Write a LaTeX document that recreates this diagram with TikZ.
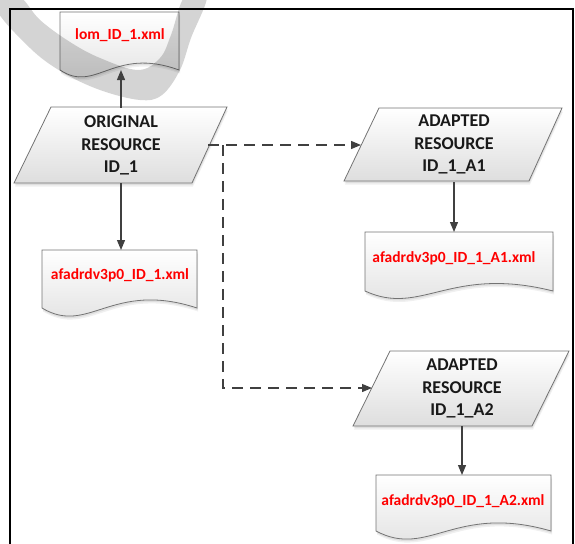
\documentclass[tikz,border=0pt]{standalone}
\usepackage{fontspec}
\setmainfont{Carlito}
\usetikzlibrary{arrows.meta}
\begin{document}
\begin{tikzpicture}[x=1pt,y=-1pt,
  shapebox/.style={
    preaction={fill=black, opacity=0.06, transform canvas={xshift=1pt, yshift=-3.5pt}},
    preaction={fill=black, opacity=0.07, transform canvas={xshift=0.5pt, yshift=-2pt}},
    draw=black!55, line width=0.8pt, top color=white, bottom color=black!13},
  title/.style={font=\bfseries\fontsize{18}{22.5}\selectfont, align=center, text=black!90,
                inner sep=0pt, minimum height=75pt},
  fname/.style={font=\bfseries\fontsize{15.5}{18}\selectfont, text=red, inner sep=0pt},
  flow/.style={draw=black!75, line width=1.2pt, -{Triangle[length=10pt,width=8pt]}},
  link/.style={flow, dash pattern=on 11pt off 7pt},
  frame/.style={line width=2.5pt, line cap=rect}]
\useasboundingbox (0,0) rectangle (575,543);

% outer frame (open at the bottom)
\draw[frame] (10,545) -- (10,9) -- (573,9) -- (573,545);

% parallelograms
\path[shapebox] (51,107) -- (227,107) -- (192,183) -- (14,183) -- cycle;
\path[shapebox] (379,108) -- (562,108) -- (529,181) -- (344,181) -- cycle;
\path[shapebox] (390,351) -- (569,351) -- (532,426) -- (353,426) -- cycle;

% document shapes with wavy bottom edge
\path[shapebox] (60,12) -- (179,12) -- (179,70)
  .. controls (113.5,46) and (95.7,94) .. (60,70) -- cycle;
\path[shapebox] (42,250) -- (197,250) -- (197,308)
  .. controls (111.75,280) and (88.5,336) .. (42,308) -- cycle;
\path[shapebox] (365,232) -- (553,232) -- (553,291)
  .. controls (449.6,265) and (421.4,317) .. (365,291) -- cycle;
\path[shapebox] (376,475) -- (551,475) -- (551,531)
  .. controls (454.75,503) and (428.5,559) .. (376,531) -- cycle;

% faint brush-stroke mark in the upper left
\fill[black, opacity=0.17] plot[smooth cycle, tension=0.6] coordinates {
  (-4,8) (30,48) (62,72) (100,90) (140,100) (162,95) (180,70) (191,38) (207,-4)
  (185,-4) (171,35) (160,58) (138,70) (100,58) (70,42) (40,20) (18,-4)};

% labels
\node[title] (orig) at (121,145.5) {ORIGINAL\\RESOURCE\\ID\_1};
\node[title] (ada1) at (454,144.5) {ADAPTED\\RESOURCE\\ID\_1\_A1};
\node[title] (ada2) at (462,388.5) {ADAPTED\\RESOURCE\\ID\_1\_A2};

\node[fname] (lomf) at (120,35) {lom\_ID\_1.xml};
\node[fname] (f0) at (120,275) {afadrdv3p0\_ID\_1.xml};
\node[fname] (f1) at (454,258) {afadrdv3p0\_ID\_1\_A1.xml};
\node[fname] (f2) at (463,501) {afadrdv3p0\_ID\_1\_A2.xml};

% connection points on the shape outlines
\coordinate (lomf-bottom) at (121,70);
\coordinate (f0-top) at (121,250);
\coordinate (f1-top) at (454,232);
\coordinate (f2-top) at (462,475);
\coordinate (orig-right) at (208,145);
\coordinate (split) at (223,145);
\coordinate (ada1-left) at (361,145);
\coordinate (ada2-left) at (372,388);

% connectors
\draw[flow] (orig.north) -- (lomf-bottom);
\draw[flow] (orig.south) -- (f0-top);
\draw[flow] (ada1.south) -- (f1-top);
\draw[flow] (ada2.south) -- (f2-top);
\draw[link] (orig-right) -- (ada1-left);
\draw[link] (split) |- (ada2-left);
\end{tikzpicture}
\end{document}
